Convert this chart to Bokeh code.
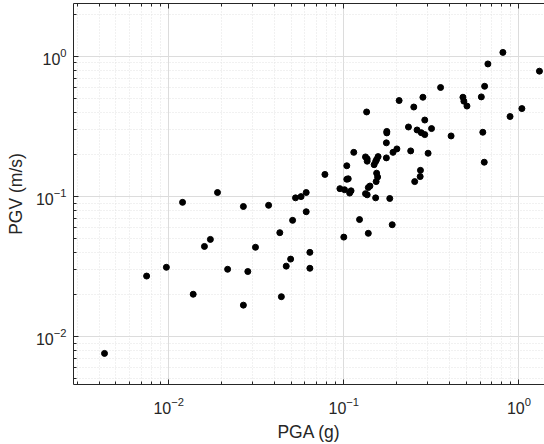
from bokeh.plotting import figure
from bokeh.models import LogAxis, LogTicker, Range1d
from bokeh.embed import file_html
from bokeh.resources import INLINE

pga = [0.81, 0.665, 1.31, 0.357, 0.637, 0.479, 0.485, 0.505, 0.61, 0.283,
       0.207, 0.251, 1.04, 0.89, 0.135, 0.29, 0.234, 0.262, 0.277, 0.29,
       0.317, 0.41, 0.622, 0.634, 0.176, 0.176, 0.175, 0.201, 0.191, 0.241,
       0.303, 0.114, 0.133, 0.136, 0.136, 0.157, 0.154, 0.152, 0.149, 0.175,
       0.104, 0.078, 0.154, 0.156, 0.153, 0.274, 0.273, 0.254, 0.104, 0.106,
       0.095, 0.101, 0.11, 0.108, 0.141, 0.138, 0.133, 0.136, 0.152, 0.183,
       0.061, 0.057, 0.053, 0.019, 0.012, 0.0267, 0.0372, 0.061, 0.051, 0.0431,
       0.0173, 0.016, 0.0313, 0.064, 0.0497, 0.0469, 0.064, 0.0097, 0.00748, 0.0217,
       0.0283, 0.0138, 0.0267, 0.044, 0.0043, 0.123, 0.189, 0.138, 0.1]
pgv = [1.07, 0.885, 0.786, 0.601, 0.613, 0.512, 0.480, 0.443, 0.515, 0.512,
       0.485, 0.436, 0.425, 0.373, 0.402, 0.352, 0.314, 0.299, 0.286, 0.277,
       0.306, 0.271, 0.288, 0.176, 0.292, 0.285, 0.242, 0.219, 0.207, 0.212,
       0.204, 0.207, 0.192, 0.186, 0.179, 0.193, 0.184, 0.178, 0.169, 0.189,
       0.166, 0.144, 0.147, 0.138, 0.128, 0.154, 0.139, 0.128, 0.133, 0.134,
       0.114, 0.112, 0.110, 0.106, 0.119, 0.116, 0.105, 0.103, 0.098, 0.097,
       0.107, 0.100, 0.098, 0.107, 0.091, 0.085, 0.0867, 0.078, 0.0677, 0.0553,
       0.0495, 0.0441, 0.0435, 0.040, 0.0358, 0.0319, 0.0308, 0.0313, 0.0271, 0.0303,
       0.0292, 0.0201, 0.0168, 0.0193, 0.0076, 0.0686, 0.063, 0.0547, 0.0514]

x_label = "PGA (g)"
y_label = "PGV (m/s)"

FONT = "Liberation Sans"
AX = "#262626"

p = figure(width=544, height=444, x_axis_type="log", y_axis_type="log",
           x_range=Range1d(0.00286, 1.40), y_range=Range1d(0.00456, 2.39),
           output_backend="svg", toolbar_location=None,
           min_border_left=73, min_border_right=0, min_border_top=3, min_border_bottom=60)
p.outline_line_color = None
p.background_fill_color = "white"

for ax in (p.xaxis[0], p.yaxis[0]):
    ax.ticker = LogTicker(mantissas=[1], num_minor_ticks=10)
    ax.axis_line_color = AX
    ax.major_tick_line_color = AX
    ax.minor_tick_line_color = AX
    ax.major_tick_in = 5
    ax.major_tick_out = 0
    ax.minor_tick_in = 3
    ax.minor_tick_out = 0
    ax.major_label_text_font = FONT
    ax.major_label_text_font_size = "16px"
    ax.major_label_text_color = AX
    ax.axis_label_text_font = FONT
    ax.axis_label_text_font_size = "17.5px"
    ax.axis_label_text_font_style = "normal"
    ax.axis_label_text_color = AX

p.xaxis.axis_label = x_label
p.yaxis.axis_label = y_label
p.xaxis.major_label_standoff = 12
p.yaxis.major_label_standoff = 7
p.xaxis.axis_label_standoff = 5
p.yaxis.axis_label_standoff = 7

top = LogAxis(ticker=LogTicker(mantissas=[1], num_minor_ticks=10))
top.axis_line_color = AX
top.major_tick_line_color = AX
top.minor_tick_line_color = AX
top.major_tick_in = 5
top.major_tick_out = 0
top.minor_tick_in = 3
top.minor_tick_out = 0
top.major_label_text_font_size = "1px"
top.major_label_text_alpha = 0
top.major_label_standoff = 0
p.add_layout(top, "above")

for g in (p.xgrid[0], p.ygrid[0]):
    g.ticker = LogTicker(mantissas=[1], num_minor_ticks=10)
    g.grid_line_color = "#dcdcdc"
    g.minor_grid_line_color = "#e2e2e2"
    g.minor_grid_line_dash = "1 2"

p.scatter(pga, pgv, size=6, color="black", marker="circle")

open("out.html", "w").write(file_html(p, INLINE))
